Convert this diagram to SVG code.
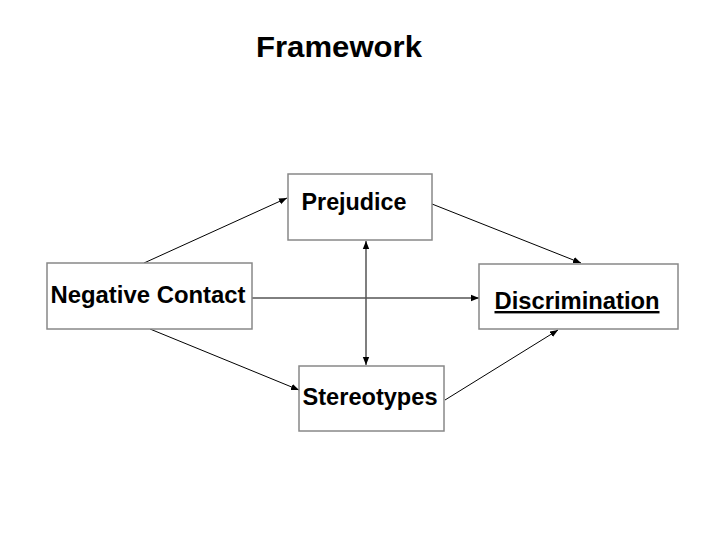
<svg xmlns="http://www.w3.org/2000/svg" width="720" height="540" viewBox="0 0 720 540">
<style>
.box{fill:#fff;stroke:#888;stroke-width:1.5}
.t{font-family:"Liberation Sans",Arial,sans-serif;font-weight:bold;fill:#000}
.c{stroke:#000;stroke-width:1;fill:none;marker-end:url(#ah)}
</style>
<defs>
<marker id="ah" viewBox="0 0 10 10" refX="10" refY="5" markerWidth="8" markerHeight="8" markerUnits="userSpaceOnUse" orient="auto-start-reverse">
<path d="M0,1 L10,5 L0,9 z" fill="#000"/>
</marker>
</defs>
<rect width="720" height="540" fill="#fff"/>
<text class="t" x="339" y="57" font-size="29" text-anchor="middle" textLength="166" lengthAdjust="spacingAndGlyphs">Framework</text>
<g id="connectors">
<line class="c" x1="144" y1="263" x2="287" y2="198"/>
<line class="c" x1="432" y1="204" x2="581" y2="263"/>
<line class="c" x1="150" y1="329" x2="299" y2="390"/>
<line class="c" x1="445" y1="400" x2="558" y2="330"/>
<line class="c" x1="252" y1="298" x2="479" y2="298"/>
<line class="c" x1="366" y1="241" x2="366" y2="365" style="marker-start:url(#ah);stroke:#555;stroke-width:1.5"/>
</g>
<g id="prejudice">
<rect class="box" x="288" y="174" width="144" height="66"/>
<text class="t" x="354" y="210" font-size="24" text-anchor="middle" textLength="105" lengthAdjust="spacingAndGlyphs">Prejudice</text>
</g>
<g id="negative-contact">
<rect class="box" x="47" y="263" width="205" height="66"/>
<text class="t" x="148" y="303" font-size="24" text-anchor="middle" textLength="195" lengthAdjust="spacingAndGlyphs">Negative Contact</text>
</g>
<g id="discrimination">
<rect class="box" x="479" y="264" width="199" height="65"/>
<text class="t" x="577" y="309" font-size="24" text-anchor="middle" textLength="165" lengthAdjust="spacingAndGlyphs" text-decoration="underline">Discrimination</text>
</g>
<g id="stereotypes">
<rect class="box" x="299" y="366" width="145" height="65"/>
<text class="t" x="370" y="405" font-size="24" text-anchor="middle" textLength="135" lengthAdjust="spacingAndGlyphs">Stereotypes</text>
</g>
</svg>
